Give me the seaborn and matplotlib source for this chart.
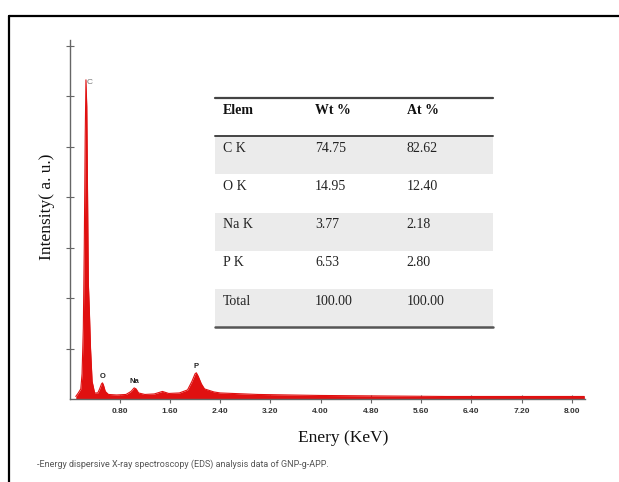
import matplotlib
matplotlib.use("Agg")
import matplotlib.pyplot as plt
from matplotlib.lines import Line2D
import pandas as pd
import seaborn as sns

# EDS spectrum, energy in keV and intensity in arbitrary units
energy_kev = [0.10, 0.14, 0.18, 0.20, 0.22, 0.235, 0.25, 0.262, 0.275, 0.288,
              0.30, 0.315, 0.335, 0.36, 0.40, 0.45, 0.48, 0.51, 0.525, 0.54,
              0.57, 0.62, 0.75, 0.90, 0.98, 1.03, 1.06, 1.10, 1.20, 1.35,
              1.48, 1.58, 1.75, 1.88, 1.95, 2.00, 2.02, 2.05, 2.10, 2.15,
              2.30, 2.40, 3.00, 4.00, 5.00, 6.00, 7.00, 8.20]
intensity = [0.05, 0.12, 0.20, 0.50, 1.40, 3.00, 5.20, 6.33, 5.80, 4.00,
             2.30, 1.80, 1.00, 0.35, 0.12, 0.12, 0.20, 0.30, 0.32, 0.28,
             0.15, 0.09, 0.08, 0.09, 0.15, 0.22, 0.20, 0.12, 0.09, 0.10,
             0.15, 0.11, 0.12, 0.18, 0.35, 0.50, 0.52, 0.45, 0.30, 0.20,
             0.14, 0.12, 0.09, 0.07, 0.06, 0.05, 0.05, 0.05]

# Peak annotations
peak_names = ["C", "O", "Na", "P"]
peak_energy = [0.262, 0.525, 1.03, 2.02]
peak_height = [6.33, 0.32, 0.22, 0.52]

# Quantification table
table_header = ["Elem", "Wt %", "At %"]
elements = ["C K", "O K", "Na K", "P K", "Total"]
wt_pct = ["74.75", "14.95", "3.77", "6.53", "100.00"]
at_pct = ["82.62", "12.40", "2.18", "2.80", "100.00"]

x_ticks = [0.80, 1.60, 2.40, 3.20, 4.00, 4.80, 5.60, 6.40, 7.20, 8.00]

sns.set_theme(style="white")
plt.rcParams["font.family"] = ["Liberation Serif", "DejaVu Serif"]

W, H = 619, 482
fig = plt.figure(figsize=(W / 100, H / 100), dpi=100)
fig.patch.set_facecolor("white")

# frame lines along top and left edges
fig.add_artist(Line2D([9 / W, 9 / W], [0, 1 - 16 / H], color="black", lw=1.6,
                      transform=fig.transFigure))
fig.add_artist(Line2D([9 / W, 1], [1 - 16 / H, 1 - 16 / H], color="black", lw=1.6,
                      transform=fig.transFigure))

ax_left, ax_right, ax_bottom, ax_top = 69.5, 585, 399, 40
ax = fig.add_axes([ax_left / W, 1 - ax_bottom / H, (ax_right - ax_left) / W,
                   (ax_bottom - ax_top) / H])

spec = pd.DataFrame({"energy": energy_kev, "intensity": intensity})
red = "#e01010"
ax.fill_between(spec["energy"], 0, spec["intensity"], color=red, lw=0)
sns.lineplot(data=spec, x="energy", y="intensity", ax=ax, color=red, lw=0.8)

for name, e, h in zip(peak_names, peak_energy, peak_height):
    if name == "C":
        ax.text(e + 0.01, h - 0.05, name, fontsize=6, color="#777777", ha="left",
                va="center", family="Liberation Sans")
    else:
        ax.text(e, h + 0.05, name, fontsize=5.5, color="#222222", ha="center",
                va="bottom", family="Liberation Sans", fontweight="bold")

ax.set_xlim(0, 8.21)
ax.set_ylim(0, 7.12)
ax.set_xticks(x_ticks)
ax.set_xticklabels([f"{t:.2f}" for t in x_ticks], fontsize=6, fontweight="bold",
                   family="Liberation Sans", color="#333333")
ax.set_yticks([1, 2, 3, 4, 5, 6, 7])
ax.set_yticklabels([])
ax.tick_params(axis="both", direction="inout", length=6, width=0.8, color="#666666",
               bottom=True, left=True)
ax.tick_params(axis="x", pad=3.5)
for s in ["top", "right"]:
    ax.spines[s].set_visible(False)
for s in ["left", "bottom"]:
    ax.spines[s].set_color("#666666")
    ax.spines[s].set_linewidth(1.0)

ax.set_xlabel("Enery (KeV)", fontsize=12.5, color="#111111")
ax.xaxis.set_label_coords((343 - ax_left) / (ax_right - ax_left),
                          -(430 - ax_bottom) / (ax_bottom - ax_top))
ax.set_ylabel("Intensity( a. u.)", fontsize=12.5, color="#111111")
ax.yaxis.set_label_coords(-(ax_left - 55) / (ax_right - ax_left),
                          (ax_bottom - 207) / (ax_bottom - ax_top))

# table overlay
t_l, t_r, t_t, t_b = 215, 493, 98, 327
tax = fig.add_axes([t_l / W, 1 - t_b / H, (t_r - t_l) / W, (t_b - t_t) / H])
tax.set_xlim(0, 1)
tax.set_ylim(6, 0)
tax.axis("off")
for r in (1, 3, 5):
    tax.axhspan(r, r + 1, color="#ebebeb", lw=0)
tax.axhline(0, color="#444444", lw=1.6, clip_on=False)
tax.axhline(1, color="#444444", lw=1.4, clip_on=False)
tax.axhline(6, color="#555555", lw=1.8, clip_on=False)

col_x = [0.028, 0.36, 0.69]
for c, txt in zip(col_x, table_header):
    tax.text(c, 0.33, txt, fontsize=10, fontweight="bold", color="#111111",
             va="center", ha="left")
for i, row in enumerate(zip(elements, wt_pct, at_pct)):
    for c, txt in zip(col_x, row):
        tax.text(c, i + 1 + 0.32, txt, fontsize=10, color="#222222",
                 va="center", ha="left")

fig.text(37 / W, 1 - 464 / H,
         "-Energy dispersive X-ray spectroscopy (EDS) analysis data of GNP-g-APP.",
         fontsize=6.5, color="#555555", family=["Roboto", "DejaVu Sans"],
         ha="left", va="center")

fig.savefig("out.png", dpi=100, facecolor="white")
